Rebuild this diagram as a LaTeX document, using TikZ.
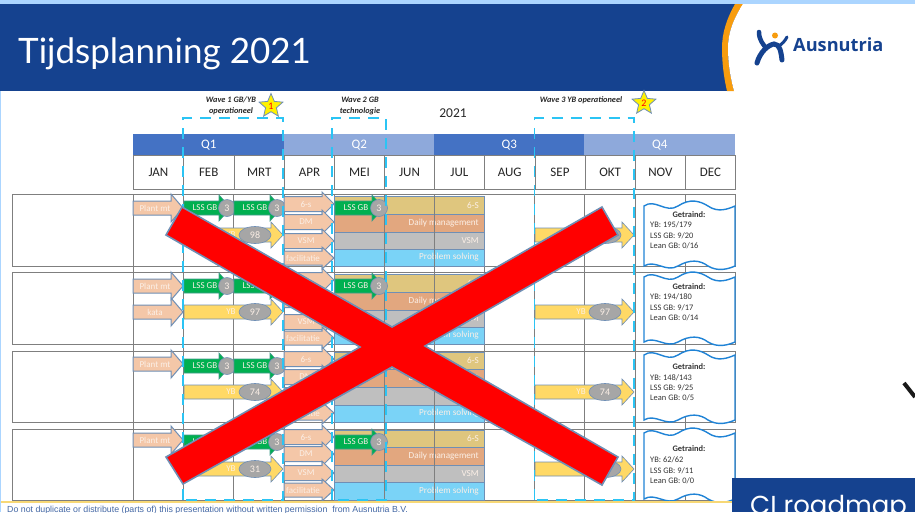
\documentclass[tikz,border=0pt]{standalone}
\usepackage{fontspec}
\setmainfont{Carlito}
\newfontfamily\titlefont{Lato}
\newfontfamily\cifont{Poppins}
\newfontfamily\logofont{Open Sans}
\newfontfamily\footfont{Liberation Sans}
\usetikzlibrary{shapes.geometric}
\definecolor{hdrblue}{HTML}{15428F}
\definecolor{topblue}{HTML}{ABD5FF}
\definecolor{logoorange}{HTML}{F79C0E}
\definecolor{qdark}{HTML}{4472C4}
\definecolor{qlight}{HTML}{8EA9DB}
\definecolor{gridgrey}{HTML}{7F7F7F}
\definecolor{edgeblue}{HTML}{6F8FB5}
\definecolor{peach}{HTML}{F4C7A8}
\definecolor{lssgreen}{HTML}{00B050}
\definecolor{ybyellow}{HTML}{FFD966}
\definecolor{bartan}{HTML}{DFC67E}
\definecolor{barorange}{HTML}{E2A77F}
\definecolor{bargrey}{HTML}{BFBFBF}
\definecolor{barblue}{HTML}{7AD3F7}
\definecolor{wavecyan}{HTML}{2BC4F4}
\definecolor{docblue}{HTML}{1F83D6}
\definecolor{softwhite}{HTML}{FBEFE6}
\definecolor{tagfill}{HTML}{A6A6A6}
\tikzset{
  gridline/.style={draw=gridgrey,line width=0.9pt},
  qcell/.style={draw=none,text=white,font=\fontsize{13}{13}\selectfont,minimum height=21pt,inner sep=0pt,anchor=north west},
  monthcell/.style={draw=gridgrey,line width=0.9pt,fill=white,text=black!85,font=\fontsize{13}{13}\selectfont,minimum height=34pt,inner sep=0pt,anchor=north west},
  peacharrow/.style={fill=peach,draw=edgeblue,line width=1pt},
  greenarrow/.style={fill=lssgreen,draw=edgeblue!60!lssgreen,line width=0.6pt},
  yellowarrow/.style={fill=ybyellow,draw=edgeblue,line width=0.6pt},
  arrowtext/.style={text=softwhite,font=\fontsize{9}{9}\selectfont,inner sep=0pt},
  greytag/.style={ellipse,fill=tagfill,draw=edgeblue,line width=0.6pt,text=softwhite,font=\fontsize{10}{10}\selectfont,inner sep=0pt},
  planbar/.style={draw=edgeblue,line width=0.9pt},
  bartext/.style={text=softwhite,font=\fontsize{9.2}{9.2}\selectfont,inner sep=0pt,anchor=east},
  wavebox/.style={draw=wavecyan,line width=1.4pt,dash pattern=on 11pt off 8pt},
  docshape/.style={draw=docblue,line width=1.4pt,fill=white},
  doctext/.style={text=black!80,font=\fontsize{8.4}{8.4}\selectfont,inner sep=0pt,anchor=west},
  wavelabel/.style={font=\fontsize{8.3}{8.3}\selectfont\itshape\bfseries,text=black!85,inner sep=0pt},
  starmark/.style={star,star points=5,star point ratio=2.2,fill=yellow,draw=edgeblue,line width=0.8pt,minimum size=25pt,inner sep=0pt,text=red,font=\fontsize{10}{10}\selectfont},
  crossmark/.style={fill=red,draw=edgeblue,line width=1.6pt,line join=miter},
}
% name, x1, x2, ymid, shaft half, head half, style, text, text x
\newcommand{\Barrow}[9]{%
  \path[#7] (#2,{#4-#5}) -- ({#3-12},{#4-#5}) -- ({#3-12},{#4-#6}) -- (#3,#4) -- ({#3-12},{#4+#6}) -- ({#3-12},{#4+#5}) -- (#2,{#4+#5}) -- cycle;
  \node[arrowtext] (#1) at (#9,#4) {#8};
}
% name, top, bottom, heading y, l1, l2, l3, ys
\newcommand{\Doc}[8]{%
  \path[docshape] (644,#2) .. controls (655,{#2-8}) and (666,{#2+8}) .. (678,#2) .. controls (690,{#2-8}) and (700,{#2-5}) .. (708,#2) .. controls (718,{#2+7}) and (728,{#2+3}) .. (735,#2)
    -- (735,#3) .. controls (728,{#3+3}) and (718,{#3+6}) .. (708,#3) .. controls (700,{#3-6}) and (690,{#3-7}) .. (678,#3) .. controls (666,{#3+7}) and (655,{#3-7}) .. (644,#3) -- cycle;
  \node[doctext,anchor=center,font=\fontsize{8.4}{8.4}\selectfont\bfseries] (#1h) at (689,#4) {Getraind:};
  \foreach \tx [count=\ti] in {#5,#6,#7} {
    \node[doctext] (#1t\ti) at (650,{#8+10.3*(\ti-1)}) {\tx};
  }
}
\begin{document}
\begin{tikzpicture}[x=1pt,y=-1pt]
\useasboundingbox (0,0) rectangle (915,512);
\clip (0,0) rectangle (915,512);
\fill[white] (0,0) rectangle (915,512);
% header
\fill[topblue] (0,0) rectangle (915,4);
\fill[topblue] (0,0) rectangle (1,512);
\fill[hdrblue] (0,4) rectangle (740,91);
\fill[logoorange] (735,4) .. controls (726,20) and (722,34) .. (722,48) .. controls (722,64) and (724,78) .. (727,91) -- (734,91) .. controls (730,76) and (728,62) .. (728,48) .. controls (728,32) and (734,18) .. (743,4) -- cycle;
\fill[white] (743,4) .. controls (734,18) and (728,32) .. (728,48) .. controls (728,62) and (730,76) .. (734,91) -- (915,91) -- (915,4) -- cycle;
\node[anchor=west,text=white,inner sep=0pt,font=\titlefont\fontsize{35}{35}\selectfont] (title) at (18,54) {Tijdsplanning 2021};
% logo
\begin{scope}[hdrblue,line cap=round]
\draw[line width=4.5pt] (759,32) .. controls (759,40) and (763,44) .. (766,48);
\draw[line width=5pt] (757,63) .. controls (760,52) and (768,45) .. (774,44) .. controls (780,44) and (781,52) .. (782,60);
\draw[line width=3pt] (787,37) .. controls (785,41) and (782,44) .. (779,46);
\end{scope}
\fill[logoorange] (775,35.5) circle (3pt);
\node[anchor=west,text=hdrblue,inner sep=0pt,font=\logofont\bfseries\fontsize{18.2}{18.2}\selectfont] (logotext) at (793,45) {Ausnutria};
% wave labels
\node[wavelabel] (w1a) at (231,100) {Wave 1 GB/YB};
\node[wavelabel] (w1b) at (231,111) {operationeel};
\node[wavelabel] (w2a) at (360,100) {Wave 2 GB};
\node[wavelabel] (w2b) at (360,111) {technologie};
\node[wavelabel] (w3a) at (581,100) {Wave 3 YB operationeel};
\node[font=\fontsize{13.5}{13.5}\selectfont,text=black!85,inner sep=0pt] (year) at (453,113) {2021};
% quarters
\node[qcell,fill=qdark,minimum width=151pt] (q1) at (133,134) {Q1};
\node[qcell,fill=qlight,minimum width=150pt] (q2) at (284,134) {Q2};
\node[qcell,fill=qdark,minimum width=150pt] (q3) at (434,134) {Q3};
\node[qcell,fill=qlight,minimum width=151pt] (q4) at (584,134) {Q4};
% months
\foreach \mx/\mw/\mn in {133/50/JAN,183/50.5/FEB,233.5/50.5/MRT,284/50/APR,334/50/MEI,384/50/JUN,434/50/JUL,484/50.5/AUG,534.5/50/SEP,584.5/50.5/OKT,635/50/NOV,685/50/DEC}
  \node[monthcell,minimum width=\mw pt] (m\mn) at (\mx,155) {\mn};
% row grid
\foreach \rt/\rb in {194/266,272/344,351/422,429/500}{
  \draw[gridline] (12,\rt) rectangle (735,\rb);
}
\foreach \gx in {133,183,233.5,284,334,534.5,584.5,635,685}
  \draw[gridline] (\gx,194) -- (\gx,500);
\draw[gridline] (484,266) -- (484,272) (484,344) -- (484,351) (484,422) -- (484,429);
% planned bars
\foreach \ra/\rb/\rc/\rd/\re in {196/214/232/249/266,274/292/310/327/344,352/369/387/405/422,430/447/465/482/500}{
  \path[planbar,fill=bartan] (334,\ra) rectangle (484,\rb);
  \path[planbar,fill=barorange] (334,\rb) rectangle (484,\rc);
  \path[planbar,fill=bargrey] (334,\rc) rectangle (484,\rd);
  \path[planbar,fill=barblue] (334,\rd) rectangle (484,\re);
  \node[bartext] (bs\ra) at (479,{(\ra+\rb)/2}) {6-S};
  \node[bartext] (bd\ra) at (479,{(\rb+\rc)/2}) {Daily management};
  \node[bartext] (bv\ra) at (479,{(\rc+\rd)/2}) {VSM};
  \node[bartext] (bp\ra) at (479,{(\rd+\re)/2}) {Problem solving};
}
\draw[gridline] (384,194) -- (384,500) (434,194) -- (434,500);
% January arrows
\Barrow{pm1}{133}{183}{208}{7}{14}{peacharrow}{Plant mt}{155}
\Barrow{pm2}{133}{183}{286}{7}{14}{peacharrow}{Plant mt}{155}
\Barrow{kata}{133}{183}{312}{7}{14}{peacharrow}{kata}{155}
\Barrow{pm3}{133}{183}{364}{7}{14}{peacharrow}{Plant mt}{155}
\Barrow{pm4}{133}{183}{440}{7}{14}{peacharrow}{Plant mt}{155}
% LSS GB arrows
\foreach \ly/\ln in {208/a,286/b,366/c,442/d}{
  \Barrow{lf\ln}{184}{231}{\ly}{7}{13}{greenarrow}{LSS GB}{205}
  \node[greytag,minimum width=17pt,minimum height=17pt] (lft\ln) at (227,\ly) {3};
  \Barrow{lm\ln}{234}{282}{\ly}{7}{13}{greenarrow}{LSS GB}{255}
  \node[greytag,minimum width=17pt,minimum height=17pt] (lmt\ln) at (277,\ly) {3};
}
\foreach \ly/\ln in {208/a,286/b,442/d}{
  \Barrow{le\ln}{335}{384}{\ly}{7}{13}{greenarrow}{LSS GB}{356}
  \node[greytag,minimum width=17pt,minimum height=17pt] (let\ln) at (379,\ly) {3};
}
% YB arrows
\foreach \yy/\yn/\yl in {235/a/98,312/b/97,392/c/74,469/d/31}{
  \Barrow{yf\yn}{184}{283}{\yy}{7}{13}{yellowarrow}{YB}{231}
  \node[greytag,minimum width=32pt,minimum height=17pt] (yft\yn) at (255,\yy) {\yl};
}
\foreach \yy/\yn/\yl in {235/a/,312/b/97,392/c/74,469/d/}{
  \Barrow{ys\yn}{535}{634}{\yy}{7}{13}{yellowarrow}{YB}{581}
  \node[greytag,minimum width=32pt,minimum height=17pt] (yst\yn) at (605,\yy) {\yl};
}
% training arrows
\foreach \ta/\tb/\tc/\td/\tn in {204/222/241/258/a,280/300/322/338/b,359/377/395/413/c,437/454/473/490/d}{
  \Barrow{s\tn}{284}{334}{\ta}{7.5}{12}{peacharrow}{6-s}{306}
  \Barrow{dm\tn}{284}{334}{\tb}{7.5}{12}{peacharrow}{DM}{306}
  \Barrow{vs\tn}{284}{334}{\tc}{7.5}{12}{peacharrow}{VSM}{306}
  \Barrow{fc\tn}{284}{334}{\td}{7}{11}{peacharrow}{facilitatie}{303}
}
% training documents
\Doc{da}{206}{266}{215}{YB: 195/179}{LSS GB: 9/20}{Lean GB: 0/16}{225}
\Doc{db}{277}{342}{287}{YB: 194/180}{LSS GB: 9/17}{Lean GB: 0/14}{297}
\Doc{dc}{355}{420}{367}{YB: 148/143}{LSS GB: 9/25}{Lean GB: 0/5}{377.5}
\Doc{dd}{433}{499}{449}{YB: 62/62}{LSS GB: 9/11}{Lean GB: 0/0}{460}
% wave frames
\draw[wavebox] (183,500) -- (183,118) -- (283,118) -- (283,500) -- cycle;
\draw[wavebox] (332,500) -- (332,118) -- (386,118) -- (386,500) -- cycle;
\draw[wavebox] (534.5,500) -- (534.5,118) -- (634,118) -- (634,500) -- cycle;
\node[starmark] (star1) at (271,106) {1};
\node[starmark] (star2) at (644,103) {2};
% red cross
\path[crossmark] (182,207) -- (392,327) -- (602,207) -- (618,235) -- (425,346) -- (618,457) -- (602,485) -- (392,367) -- (183,484) -- (166,457) -- (360,347) -- (166,235) -- cycle;
% footer
\fill[white] (1,502) rectangle (915,512);
\fill[peach!70!yellow] (1,501) rectangle (735,503);
\node[anchor=base west,text=hdrblue!80,inner sep=0pt,font=\footfont\fontsize{8.8}{8.8}\selectfont] (footer) at (7,512) {Do not duplicate or distribute (parts of) this presentation without written permission\ \ from Ausnutria B.V.};
% next slide fragments
\fill[hdrblue] (732,478) rectangle (915,512);
\node[anchor=base west,text=white,inner sep=0pt,font=\cifont\fontsize{26}{26}\selectfont] (ci) at (750,514) {CI roadmap};
\draw[black!90,line width=4pt] (904,383) -- (915,397);
\end{tikzpicture}
\end{document}
